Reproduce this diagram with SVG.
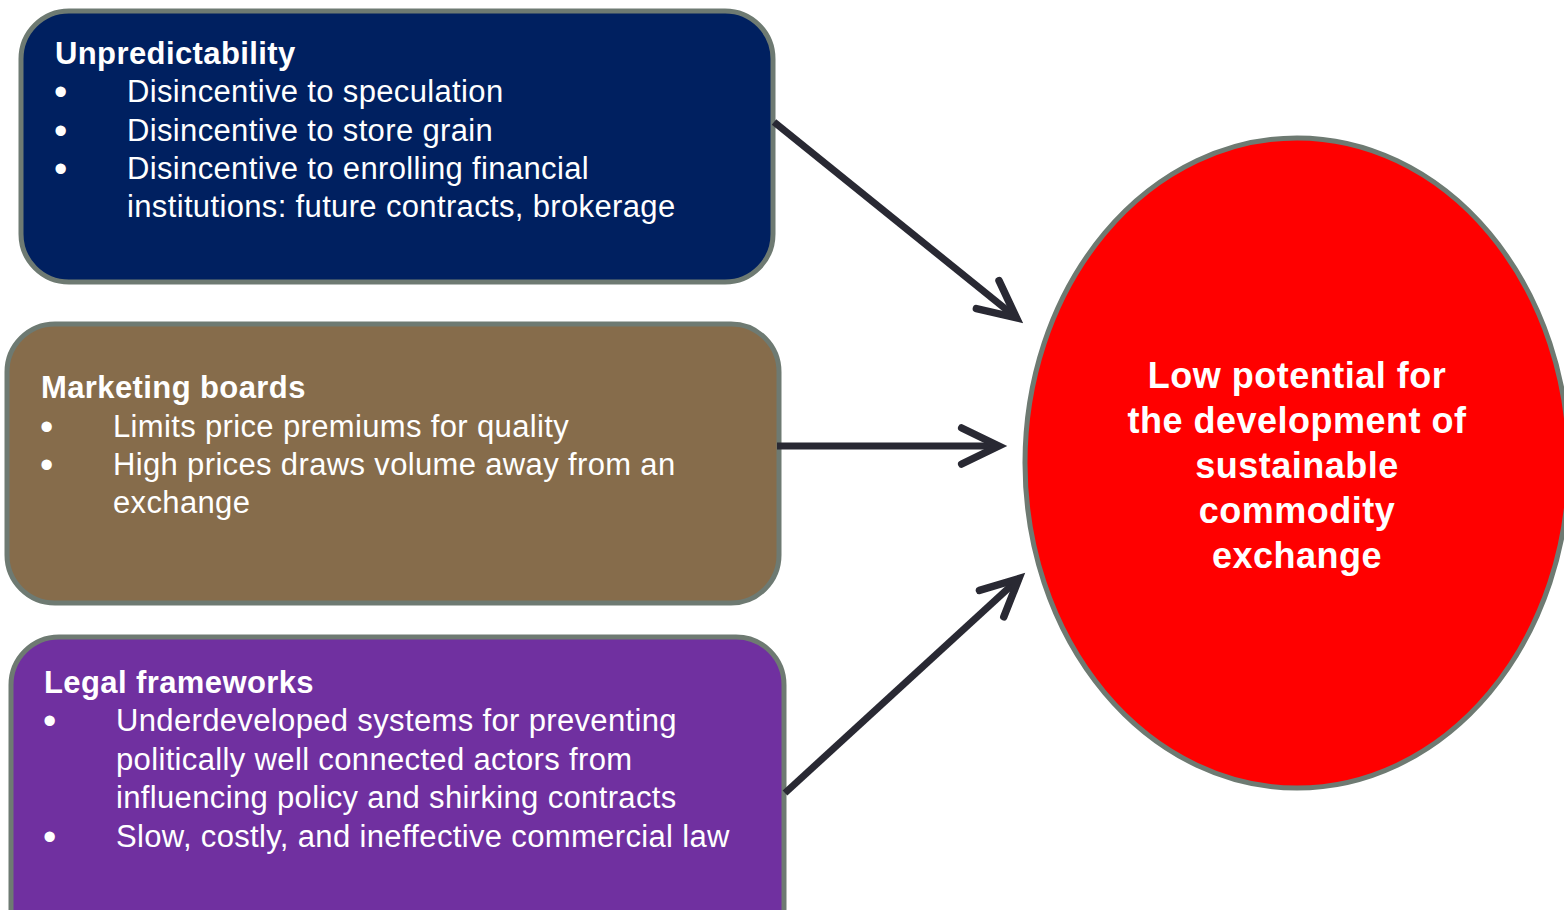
<svg xmlns="http://www.w3.org/2000/svg" width="1564" height="910" viewBox="0 0 1564 910">
<style>
.box{stroke:#6e7a72;stroke-width:5}
.t{font-family:"Liberation Sans",Arial,sans-serif;fill:#ffffff;font-size:31px;letter-spacing:0.35px}
.h{font-weight:bold;letter-spacing:0.4px}
.b{font-family:"Liberation Sans",Arial,sans-serif;fill:#ffffff;font-size:38px}
.c{font-family:"Liberation Sans",Arial,sans-serif;fill:#ffffff;font-size:36px;font-weight:bold;text-anchor:middle;letter-spacing:0.5px}
.arr{stroke:#292933;stroke-width:7;fill:none}
</style>
<defs>
<marker id="ah" markerUnits="userSpaceOnUse" viewBox="-50 -30 70 60" markerWidth="70" markerHeight="60" refX="0" refY="0" orient="auto">
<path d="M-37 -18 L0 0 L-37 18" fill="none" stroke="#292933" stroke-width="7.5" stroke-linecap="round" stroke-linejoin="miter"/>
</marker>
</defs>
<rect width="1564" height="910" fill="#ffffff"/>
<g id="unpredictability">
<rect class="box" x="21" y="11" width="752" height="271" rx="48" fill="#002060"/>
<text class="t h" x="55" y="64">Unpredictability</text>
<text class="b" x="54" y="105">•</text><text class="t" x="127" y="102">Disincentive to speculation</text>
<text class="b" x="54" y="144">•</text><text class="t" x="127" y="141">Disincentive to store grain</text>
<text class="b" x="54" y="182">•</text><text class="t" x="127" y="179">Disincentive to enrolling financial</text>
<text class="t" x="127" y="217">institutions: future contracts, brokerage</text>
</g>
<g id="marketing">
<rect class="box" x="7" y="324" width="772" height="279" rx="48" fill="#866c4b"/>
<text class="t h" x="41" y="398">Marketing boards</text>
<text class="b" x="40" y="440">•</text><text class="t" x="113" y="437">Limits price premiums for quality</text>
<text class="b" x="40" y="478">•</text><text class="t" x="113" y="475">High prices draws volume away from an</text>
<text class="t" x="113" y="513">exchange</text>
</g>
<g id="legal">
<rect class="box" x="11" y="637" width="773" height="320" rx="48" fill="#7030a0"/>
<text class="t h" x="44" y="693">Legal frameworks</text>
<text class="b" x="43" y="734">•</text><text class="t" x="116" y="731">Underdeveloped systems for preventing</text>
<text class="t" x="116" y="770">politically well connected actors from</text>
<text class="t" x="116" y="808">influencing policy and shirking contracts</text>
<text class="b" x="43" y="850">•</text><text class="t" x="116" y="847">Slow, costly, and ineffective commercial law</text>
</g>
<g id="outcome">
<ellipse cx="1297" cy="463" rx="272" ry="325" fill="#ff0000" stroke="#6e7a72" stroke-width="5"/>
<text class="c" x="1297" y="388">Low potential for</text>
<text class="c" x="1297" y="433">the development of</text>
<text class="c" x="1297" y="478">sustainable</text>
<text class="c" x="1297" y="523">commodity</text>
<text class="c" x="1297" y="568">exchange</text>
</g>
<g id="connectors">
<line class="arr" x1="774" y1="122" x2="1016.5" y2="317.8" marker-end="url(#ah)"/>
<line class="arr" x1="777" y1="446" x2="998.7" y2="446" marker-end="url(#ah)"/>
<line class="arr" x1="785" y1="793" x2="1018.9" y2="578.6" marker-end="url(#ah)"/>
</g>
</svg>
